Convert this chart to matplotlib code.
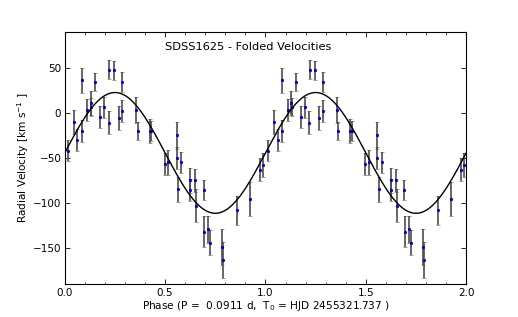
import matplotlib
matplotlib.use('Agg')
import matplotlib.pyplot as plt
from matplotlib.ticker import MultipleLocator
import numpy as np

# folded phases, velocities (km/s) and errors, one cycle
phase = [0.014, 0.044, 0.061, 0.084, 0.084, 0.110, 0.129, 0.132, 0.150, 0.178,
         0.198, 0.218, 0.222, 0.247, 0.268, 0.286, 0.286, 0.356, 0.363, 0.423,
         0.431, 0.497, 0.514, 0.557, 0.557, 0.565, 0.580, 0.625, 0.625, 0.650,
         0.655, 0.692, 0.695, 0.716, 0.723, 0.785, 0.790, 0.858, 0.924, 0.975,
         0.990]
vel = [-42, -10, -30, 36, -20, 3, 11, 6, 34, -5,
       6, -11, 48, 47, -6, 34, 2, 3, -20, -20,
       -20, -57, -55, -25, -50, -85, -55, -75, -86, -75,
       -103, -86, -132, -129, -144, -149, -163, -108, -96, -63,
       -58]
err = [12, 13, 12, 14, 12, 12, 13, 10, 10, 12,
       12, 13, 11, 11, 13, 11, 12, 14, 10, 13,
       11, 12, 14, 15, 12, 14, 12, 14, 12, 13,
       18, 11, 17, 15, 14, 20, 20, 16, 19, 13,
       13]

# sine fit parameters
gamma = -44.5
K = 67.0

phase = np.array(phase)
vel = np.array(vel)
err = np.array(err)

fig = plt.figure(figsize=(5.18, 3.17), dpi=100)
ax = fig.add_subplot(111)
fig.subplots_adjust(left=0.125, right=0.9, bottom=0.104, top=0.9)

for off in [0, 1]:
    ax.errorbar(phase + off, vel, yerr=err, fmt='.', color='#0000dd', mec='#000090',
                mew=0.4, ms=3.8, ecolor='0.3', elinewidth=1.2, capsize=1.5,
                capthick=0.8, zorder=2)

ph = np.linspace(0, 2, 500)
ax.plot(ph, gamma + K * np.sin(2 * np.pi * ph), 'k-', lw=1.0, zorder=3)

ax.text(0.5, 70, 'SDSS1625 - Folded Velocities', fontsize=8.2)

ax.set_xlim(0, 2)
ax.set_ylim(-190, 90)
ax.xaxis.set_major_locator(MultipleLocator(0.5))
ax.xaxis.set_minor_locator(MultipleLocator(0.1))
ax.yaxis.set_major_locator(MultipleLocator(50))
ax.tick_params(which='both', direction='in', top=True, right=True, labelsize=7.5)
ax.tick_params(which='major', length=3.5, width=0.6, pad=2.5)
ax.tick_params(which='minor', length=1.8, width=0.5)
for s in ax.spines.values():
    s.set_linewidth(0.8)

ax.set_xlabel(r'Phase (P =  0.0911 d,  T$_0$ = HJD 2455321.737 )', fontsize=7.6, labelpad=1)
ax.set_ylabel(r'Radial Velocity [km s$^{-1}$ ]', fontsize=7.6, labelpad=1)

fig.savefig('out.png', dpi=100)
